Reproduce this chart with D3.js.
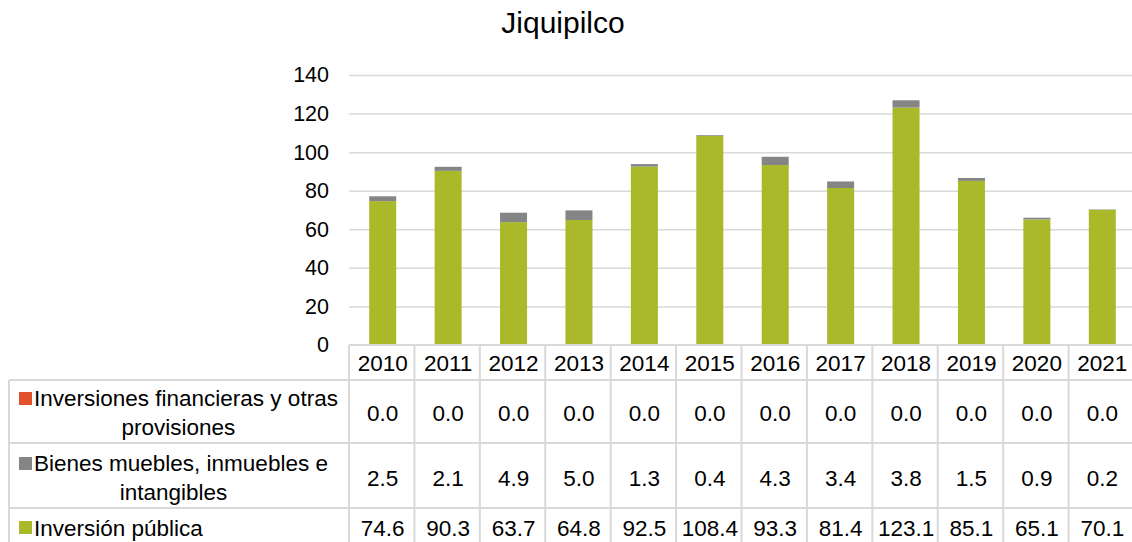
<!DOCTYPE html>
<html>
<head>
<meta charset="utf-8">
<script src="https://cdn.jsdelivr.net/npm/d3@7"></script>
<style>
  body { margin: 0; background: #fff; }
  svg { font-family: "Liberation Sans", Arial, sans-serif; }
</style>
</head>
<body>
<svg id="chart"></svg>
<script>
const years = ["2010","2011","2012","2013","2014","2015","2016","2017","2018","2019","2020","2021"];
const inversionesFin = [0.0,0.0,0.0,0.0,0.0,0.0,0.0,0.0,0.0,0.0,0.0,0.0];
const bienesMuebles = [2.5,2.1,4.9,5.0,1.3,0.4,4.3,3.4,3.8,1.5,0.9,0.2];
const inversionPublica = [74.6,90.3,63.7,64.8,92.5,108.4,93.3,81.4,123.1,85.1,65.1,70.1];
const yTicks = [0,20,40,60,80,100,120,140];

// stacking order bottom→top; table order top→bottom is the reverse
const series = [
  {name: ["Inversión pública"], values: inversionPublica, color: "#a9b92a"},
  {name: ["Bienes muebles, inmuebles e", "intangibles"], values: bienesMuebles, color: "#858585"},
  {name: ["Inversiones financieras y otras", "provisiones"], values: inversionesFin, color: "#e2522a"}
];

const width = 1132, height = 542;
const left = 349, right = 1134, tableLeft = 9;
const yTop = 75, yBottom = 345;
const rowTops = [345, 380, 443, 508, 548];
const gridColor = "#d9d9d9";
const fs = 22.5;

const svg = d3.select("#chart")
    .attr("width", width)
    .attr("height", height)
    .attr("viewBox", [0, 0, width, height]);

svg.append("text")
    .attr("x", 563)
    .attr("y", 33)
    .attr("text-anchor", "middle")
    .attr("font-size", 30)
    .attr("fill", "#000")
    .text("Jiquipilco");

const x = d3.scaleBand().domain(years).range([left, right]).paddingInner(0).paddingOuter(0);
const y = d3.scaleLinear().domain([0, 140]).range([yBottom, yTop]);
const barW = 27;

// gridlines + y axis
const yAxis = d3.axisLeft(y).tickValues(yTicks).tickSize(0).tickPadding(20);
svg.append("g")
    .attr("transform", `translate(${left},0)`)
    .call(yAxis)
    .call(g => g.select(".domain").remove())
    .call(g => g.selectAll(".tick text").attr("font-size", 21.5).attr("fill", "#000")
        .attr("font-family", "Liberation Sans, Arial, sans-serif"))
    .call(g => g.selectAll(".tick").filter(d => d > 0).append("line")
        .attr("x2", right - left)
        .attr("stroke", gridColor)
        .attr("stroke-width", 1.5));

// stacked bars
const stackData = years.map((yr, i) => {
  const o = {year: yr};
  series.forEach((s, k) => o[k] = s.values[i]);
  return o;
});
const stack = d3.stack().keys(series.map((s, k) => k));
const layers = stack(stackData);

svg.append("g")
  .selectAll("g")
  .data(layers)
  .join("g")
    .attr("fill", (d, k) => series[k].color)
  .selectAll("rect")
  .data(d => d)
  .join("rect")
    .attr("x", d => x(d.data.year) + x.bandwidth() / 2 - barW / 2 + 1)
    .attr("width", barW)
    .attr("y", d => y(d[1]))
    .attr("height", d => Math.max(0, y(d[0]) - y(d[1])));

// data table
const table = svg.append("g").attr("stroke", gridColor).attr("stroke-width", 2).attr("fill", "none");
table.append("line").attr("x1", left).attr("x2", right).attr("y1", rowTops[0]).attr("y2", rowTops[0]);
[1, 2, 3].forEach(r => table.append("line")
    .attr("x1", tableLeft).attr("x2", right).attr("y1", rowTops[r]).attr("y2", rowTops[r]));
table.append("line").attr("x1", tableLeft).attr("x2", tableLeft).attr("y1", rowTops[1]).attr("y2", height);
years.forEach(yr => table.append("line")
    .attr("x1", x(yr)).attr("x2", x(yr)).attr("y1", rowTops[0]).attr("y2", height));

// header years
svg.append("g")
  .selectAll("text")
  .data(years)
  .join("text")
    .attr("x", d => x(d) + x.bandwidth() / 2 + 1)
    .attr("y", 363 + 8)
    .attr("text-anchor", "middle")
    .attr("font-size", fs)
    .text(d => d);

// rows: table top→bottom is reversed stacking order
const rowMids = [413, 478, 528];
const rows = series.slice().reverse();
rows.forEach((s, r) => {
  const mid = rowMids[r];
  const g = svg.append("g");
  g.selectAll("text.val")
    .data(s.values)
    .join("text")
      .attr("class", "val")
      .attr("x", (d, i) => x(years[i]) + x.bandwidth() / 2 + 1)
      .attr("y", mid + 8)
      .attr("text-anchor", "middle")
      .attr("font-size", fs)
      .text(d => d.toFixed(1));

  // legend label
  if (s.name.length === 2) {
    g.append("rect").attr("x", 19).attr("y", mid - 21).attr("width", 13).attr("height", 13).attr("fill", s.color);
    const t0 = g.append("text").attr("x", 34).attr("y", mid - 7).attr("font-size", fs).text(s.name[0]);
    const w0 = 34 + t0.node().getComputedTextLength();
    g.append("text").attr("x", (19 + w0) / 2).attr("y", mid + 22)
        .attr("text-anchor", "middle").attr("font-size", fs).text(s.name[1]);
  } else {
    g.append("rect").attr("x", 19).attr("y", mid - 7).attr("width", 13).attr("height", 13).attr("fill", s.color);
    g.append("text").attr("x", 34).attr("y", mid + 8).attr("font-size", fs).text(s.name[0]);
  }
});
</script>
</body>
</html>
